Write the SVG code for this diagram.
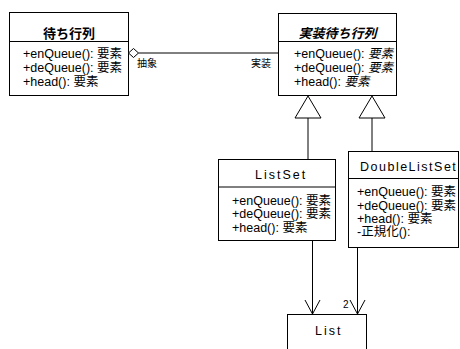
<svg xmlns="http://www.w3.org/2000/svg" width="460" height="349" viewBox="0 0 460 349">
<style>
.box{fill:#fff;stroke:#000;stroke-width:1}
.ln{stroke:#000;stroke-width:1;fill:none}
text{font-family:"Liberation Sans","Noto Sans CJK JP",sans-serif;fill:#000}
.t{font-size:13px;font-weight:bold;text-anchor:middle}
.m{font-size:12.5px}
.s{font-size:12.5px;letter-spacing:2px}
.l{font-size:10px}
.i{font-style:italic}
</style>
<rect width="460" height="349" fill="#fff"/>
<g id="queue">
<rect class="box" x="9.5" y="12.5" width="119" height="83"/>
<line class="ln" x1="9.5" y1="41.5" x2="128.5" y2="41.5"/>
<text class="t" x="69" y="37.5">待ち行列</text>
<text class="m" x="23" y="58">+enQueue(): 要素</text>
<text class="m" x="23" y="72">+deQueue(): 要素</text>
<text class="m" x="23" y="86">+head(): 要素</text>
</g>
<g id="implqueue">
<rect class="box" x="278.5" y="13.5" width="118" height="82"/>
<line class="ln" x1="278.5" y1="41.5" x2="396.5" y2="41.5"/>
<text class="t i" x="337.5" y="37.5">実装待ち行列</text>
<text class="m" x="294" y="58">+enQueue(): <tspan class="i">要素</tspan></text>
<text class="m" x="294" y="72">+deQueue(): <tspan class="i">要素</tspan></text>
<text class="m" x="294" y="86">+head(): <tspan class="i">要素</tspan></text>
</g>
<g id="listset">
<rect class="box" x="218.5" y="159.5" width="117" height="81"/>
<line class="ln" x1="218.5" y1="187" x2="335.5" y2="187"/>
<text class="s" x="255" y="179">ListSet</text>
<text class="m" x="232" y="204.5">+enQueue(): 要素</text>
<text class="m" x="232" y="218">+deQueue(): 要素</text>
<text class="m" x="232" y="231.5">+head(): 要素</text>
</g>
<g id="doublelistset">
<rect class="box" x="348.5" y="151.5" width="110" height="96"/>
<line class="ln" x1="348.5" y1="178.5" x2="458.5" y2="178.5"/>
<text class="s" x="360" y="171" style="letter-spacing:1.5px">DoubleListSet</text>
<text class="m" x="357" y="196">+enQueue(): 要素</text>
<text class="m" x="357" y="210">+deQueue(): 要素</text>
<text class="m" x="357" y="223">+head(): 要素</text>
<text class="m" x="357" y="236">-正規化():</text>
</g>
<g id="list">
<rect class="box" x="287.5" y="314.5" width="79" height="50"/>
<text class="s" x="315" y="335">List</text>
</g>
<g id="connectors">
<polygon class="box" points="128.5,53 133.5,48.5 138.5,53 133.5,57.5"/>
<line class="ln" x1="138.5" y1="53" x2="278.5" y2="53"/>
<text class="l" x="137" y="67">抽象</text>
<text class="l" x="251" y="67">実装</text>
<polygon class="box" points="308,96 295,118 321,118"/>
<line class="ln" x1="308" y1="118" x2="308" y2="159.5"/>
<polygon class="box" points="372,96 359,118 385,118"/>
<line class="ln" x1="372" y1="118" x2="372" y2="151.5"/>
<line class="ln" x1="312.5" y1="240.5" x2="312.5" y2="314"/>
<polyline class="ln" points="305,300 312.5,314 320,300"/>
<line class="ln" x1="357.5" y1="247.5" x2="357.5" y2="314"/>
<polyline class="ln" points="350,300 357.5,314 365,300"/>
<text class="l" x="343" y="308" font-size="11">2</text>
</g>
</svg>
